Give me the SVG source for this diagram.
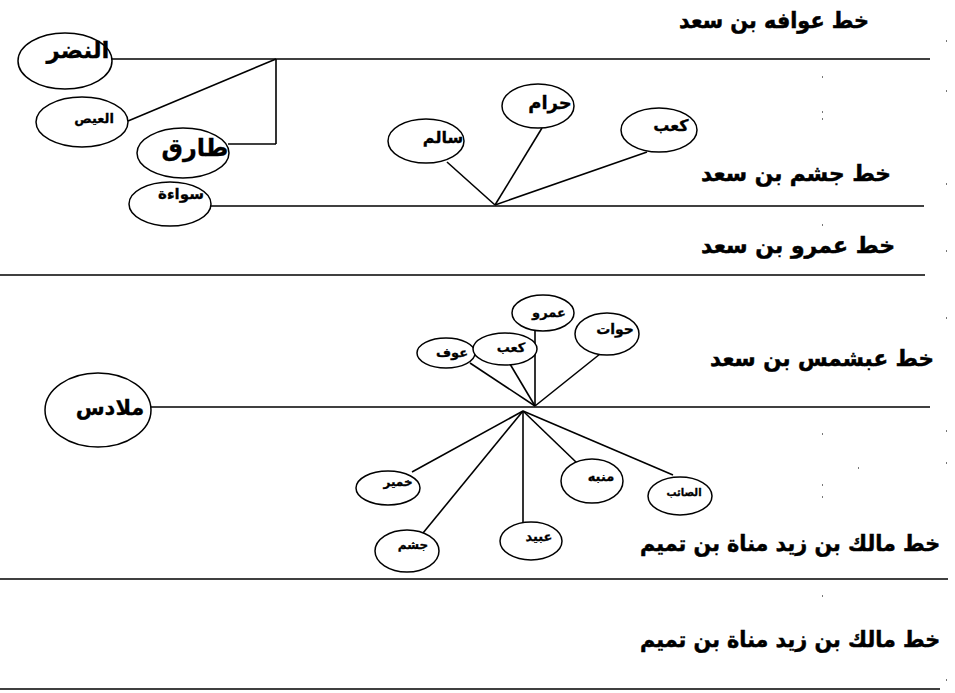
<svg xmlns="http://www.w3.org/2000/svg" width="955" height="693" viewBox="0 0 955 693">
<style>
.ln{stroke:#000;stroke-width:1.6;fill:none}
.nd ellipse{fill:#fff;stroke:#000;stroke-width:1.5}
text{font-family:"DejaVu Sans","Noto Sans",sans-serif;font-weight:bold;fill:#000}
.t{font-size:22px;text-anchor:middle;stroke:#000;stroke-width:0.5}
.n{text-anchor:middle;stroke:#000;stroke-width:0.3}
.sp{fill:#777}
</style>
<rect width="955" height="693" fill="#fff"/>
<g id="connectors">
<line class="ln" x1="110" y1="59" x2="930" y2="59"/>
<line class="ln" x1="128" y1="121" x2="276" y2="59"/>
<line class="ln" x1="276" y1="59" x2="276" y2="144"/>
<line class="ln" x1="228" y1="144" x2="276" y2="144"/>
<line class="ln" x1="211" y1="206" x2="924" y2="206"/>
<line class="ln" x1="447" y1="162" x2="495" y2="205"/>
<line class="ln" x1="542" y1="128" x2="495" y2="205"/>
<line class="ln" x1="647" y1="152" x2="495" y2="205"/>
<line class="ln" x1="0" y1="275" x2="925" y2="275"/>
<line class="ln" x1="150" y1="407" x2="930" y2="407"/>
<line class="ln" x1="470" y1="363" x2="535" y2="406"/>
<line class="ln" x1="510" y1="364" x2="535" y2="406"/>
<line class="ln" x1="535" y1="331" x2="535" y2="406"/>
<line class="ln" x1="600" y1="354" x2="535" y2="406"/>
<line class="ln" x1="412" y1="472" x2="523" y2="411"/>
<line class="ln" x1="423" y1="533" x2="523" y2="411"/>
<line class="ln" x1="523" y1="523" x2="523" y2="411"/>
<line class="ln" x1="577" y1="463" x2="523" y2="411"/>
<line class="ln" x1="673" y1="475" x2="523" y2="411"/>
<line class="ln" x1="0" y1="579" x2="948" y2="579"/>
<line class="ln" x1="0" y1="689" x2="940" y2="689"/>
</g>
<g id="n-nadr" class="nd"><ellipse cx="65" cy="61" rx="47" ry="28"/><text class="n" x="78" y="58" font-size="23">النضر</text></g>
<g id="n-ais" class="nd"><ellipse cx="82" cy="122" rx="46" ry="25"/><text class="n" x="94" y="123" font-size="13">العيص</text></g>
<g id="n-tariq" class="nd"><ellipse cx="183" cy="153" rx="46" ry="25"/><text class="n" x="195" y="156" font-size="24">طارق</text></g>
<g id="n-sawaa" class="nd"><ellipse cx="170" cy="204" rx="41" ry="22"/><text class="n" x="181" y="199" font-size="15">سواءة</text></g>
<g id="n-salim" class="nd"><ellipse cx="426" cy="141" rx="38" ry="22"/><text class="n" x="443" y="143" font-size="16">سالم</text></g>
<g id="n-haram" class="nd"><ellipse cx="538" cy="106" rx="36" ry="22"/><text class="n" x="550" y="109" font-size="18">حرام</text></g>
<g id="n-kaab1" class="nd"><ellipse cx="659" cy="130" rx="38" ry="22"/><text class="n" x="671" y="131" font-size="16">كعب</text></g>
<g id="n-mulados" class="nd"><ellipse cx="98" cy="410" rx="53" ry="37"/><text class="n" x="110" y="415" font-size="21">ملادس</text></g>
<g id="n-awf" class="nd"><ellipse cx="446" cy="353" rx="29" ry="15"/><text class="n" x="452" y="357" font-size="13">عوف</text></g>
<g id="n-kaab2" class="nd"><ellipse cx="505" cy="349" rx="32" ry="16"/><text class="n" x="511" y="352" font-size="13">كعب</text></g>
<g id="n-amr" class="nd"><ellipse cx="543" cy="313" rx="31" ry="18"/><text class="n" x="549" y="317" font-size="13">عمرو</text></g>
<g id="n-hawat" class="nd"><ellipse cx="607" cy="334" rx="32" ry="21"/><text class="n" x="615" y="334" font-size="14">حوات</text></g>
<g id="n-khumayr" class="nd"><ellipse cx="388" cy="488" rx="32" ry="17"/><text class="n" x="398" y="486" font-size="12">خمير</text></g>
<g id="n-jusham" class="nd"><ellipse cx="407" cy="551" rx="32" ry="21"/><text class="n" x="413" y="549" font-size="12">جشم</text></g>
<g id="n-ubayd" class="nd"><ellipse cx="531" cy="541" rx="31" ry="19"/><text class="n" x="539" y="541" font-size="13">عبيد</text></g>
<g id="n-munabbih" class="nd"><ellipse cx="592" cy="481" rx="31" ry="22"/><text class="n" x="601" y="481" font-size="13">منبه</text></g>
<g id="n-saib" class="nd"><ellipse cx="680" cy="496" rx="32" ry="19"/><text class="n" x="684" y="496" font-size="10">الصائب</text></g>
<g id="labels">
<text class="t" x="774" y="28" textLength="190" lengthAdjust="spacingAndGlyphs">خط عوافه بن سعد</text>
<text class="t" x="796" y="181" textLength="190" lengthAdjust="spacingAndGlyphs">خط جشم بن سعد</text>
<text class="t" x="798" y="253" textLength="194" lengthAdjust="spacingAndGlyphs">خط عمرو بن سعد</text>
<text class="t" x="822" y="366" textLength="224" lengthAdjust="spacingAndGlyphs">خط عبشمس بن سعد</text>
<text class="t" transform="translate(790 551) scale(0.86 1)" x="0" y="0" font-size="22" textLength="349" lengthAdjust="spacingAndGlyphs">خط مالك بن زيد مناة بن تميم</text>
<text class="t" transform="translate(790 647) scale(0.86 1)" x="0" y="0" font-size="22" textLength="349" lengthAdjust="spacingAndGlyphs">خط مالك بن زيد مناة بن تميم</text>
</g>
<g id="specks">
<rect class="sp" x="946" y="40" width="1" height="2"/>
<rect class="sp" x="946" y="90" width="1" height="2"/>
<rect class="sp" x="946" y="183" width="1" height="2"/>
<rect class="sp" x="946" y="250" width="1" height="2"/>
<rect class="sp" x="946" y="317" width="1" height="2"/>
<rect class="sp" x="946" y="430" width="1" height="2"/>
<rect class="sp" x="946" y="462" width="1" height="2"/>
<rect class="sp" x="822" y="76" width="1" height="2"/>
<rect class="sp" x="822" y="111" width="1" height="2"/>
<rect class="sp" x="822" y="118" width="1" height="2"/>
<rect class="sp" x="822" y="224" width="1" height="2"/>
<rect class="sp" x="822" y="433" width="1" height="2"/>
<rect class="sp" x="822" y="484" width="1" height="2"/>
<rect class="sp" x="822" y="496" width="1" height="2"/>
<rect class="sp" x="858" y="467" width="1" height="2"/>
<rect class="sp" x="822" y="595" width="1" height="2"/>
<rect class="sp" x="946" y="679" width="1" height="2"/>
</g>
</svg>
